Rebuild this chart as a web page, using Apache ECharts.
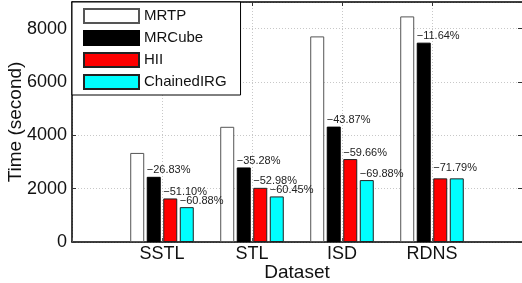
<!DOCTYPE html>
<html>
<head>
<meta charset="utf-8">
<script src="https://cdn.jsdelivr.net/npm/echarts@6/dist/echarts.min.js"></script>
<style>
  html, body { margin: 0; padding: 0; background: #fff; }
  #chart { width: 522px; height: 283px; }
</style>
</head>
<body>
<div id="chart"></div>
<script>
// data
const datasets = ['SSTL', 'STL', 'ISD', 'RDNS'];
const mrtp = [3340, 4320, 7710, 8460];
const mrcube = [2444, 2796, 4327, 7475];
const hii = [1633, 2031, 3110, 2387];
const chained = [1307, 1709, 2322, 2387];

const mrcubePct = ['−26.83%', '−35.28%', '−43.87%', '−11.64%'];
const hiiPct = ['−51.10%', '−52.98%', '−59.66%', '−71.79%'];
const chainedPct = ['−60.88%', '−60.45%', '−69.88%', ''];

const yTicks = [0, 2000, 4000, 6000, 8000];

const font = 'Liberation Sans, Arial, sans-serif';

// x axis in the figure runs from 0 to 5, datasets sit at 1..4
const cats = [''].concat(datasets, ['']);
const pad = (arr) => [null].concat(arr, [null]);

const labelFor = (pcts) => ({
  show: true,
  position: [0, -1],
  align: 'left',
  verticalAlign: 'bottom',
  fontFamily: font,
  fontSize: 11,
  color: '#222',
  formatter: (p) => pcts[p.dataIndex - 1] || ''
});

const makeBar = (name, values, color, border, pcts) => ({
  name: name,
  type: 'bar',
  data: pad(values),
  barWidth: 14,
  barGap: '18%',
  itemStyle: { color: color, borderColor: border, borderWidth: 1 },
  label: pcts ? labelFor(pcts) : { show: false },
  labelLayout: (p) => (p.dataIndex === 4 && name === 'HII') ? { dy: -4 } : {},
  silent: true
});

const getOption = () => {
  return {
    animation: false,
    backgroundColor: '#fff',
    grid: { left: 72, right: 0, top: 2, bottom: 41, containLabel: false, outerBoundsMode: 'none' },
    legend: {
      orient: 'vertical',
      left: 72,
      top: 2,
      padding: [6, 14, 5, 11],
      itemWidth: 55,
      itemHeight: 14,
      itemGap: 6,
      icon: 'rect',
      backgroundColor: '#fff',
      borderColor: '#000',
      borderWidth: 1,
      borderRadius: 0,
      textStyle: { fontFamily: font, fontSize: 15, color: '#111', lineHeight: 14 },
      data: ['MRTP', 'MRCube', 'HII', 'ChainedIRG'],
      z: 10
    },
    xAxis: [{
      type: 'category',
      data: cats,
      boundaryGap: false,
      name: 'Dataset',
      nameLocation: 'middle',
      nameGap: 21,
      nameMoveOverlap: false,
      nameTextStyle: { fontFamily: font, fontSize: 19, color: '#111' },
      axisLine: { lineStyle: { color: '#000', width: 1.5 } },
      axisTick: { show: true, inside: true, length: 4, interval: 0, lineStyle: { color: '#555' } },
      axisLabel: { fontFamily: font, fontSize: 18, color: '#111', margin: 3, interval: 0 },
      splitLine: { show: true, interval: 0, lineStyle: { color: '#c8c8c8', type: [1, 2] } }
    }, {
      type: 'category',
      data: cats,
      boundaryGap: false,
      position: 'top',
      axisLine: { show: true, onZero: false, lineStyle: { color: '#000', width: 1.5 } },
      axisTick: { show: true, inside: true, length: 4, interval: 0, lineStyle: { color: '#333' } },
      axisLabel: { show: false },
      splitLine: { show: false }
    }],
    yAxis: [{
      type: 'value',
      min: 0,
      max: 9000,
      interval: 2000,
      name: 'Time (second)',
      nameLocation: 'middle',
      nameGap: 47,
      nameMoveOverlap: false,
      nameTextStyle: { fontFamily: font, fontSize: 19, color: '#111' },
      axisLine: { show: true, lineStyle: { color: '#000', width: 1.5 } },
      axisTick: { show: true, inside: true, length: 4, lineStyle: { color: '#333' } },
      axisLabel: {
        fontFamily: font, fontSize: 18, color: '#111', margin: 5,
        showMaxLabel: false,
        formatter: (v) => yTicks.indexOf(v) >= 0 ? String(v) : ''
      },
      splitLine: { show: true, lineStyle: { color: '#c8c8c8', type: [1, 2] } }
    }, {
      type: 'value',
      min: 0,
      max: 9000,
      interval: 2000,
      position: 'right',
      axisLine: { show: false },
      axisTick: { show: true, inside: true, length: 4, lineStyle: { color: '#333' } },
      axisLabel: { show: false },
      splitLine: { show: false }
    }],
    series: [
      makeBar('MRTP', mrtp, '#ffffff', '#555', null),
      makeBar('MRCube', mrcube, '#000000', '#000', mrcubePct),
      makeBar('HII', hii, '#ff0000', '#222', hiiPct),
      makeBar('ChainedIRG', chained, '#00ffff', '#222', chainedPct)
    ]
  };
};

const chart = echarts.init(document.getElementById('chart'));
chart.setOption(getOption());

window.addEventListener('resize', function () {
  chart.resize();
});
</script>
</body>
</html>
